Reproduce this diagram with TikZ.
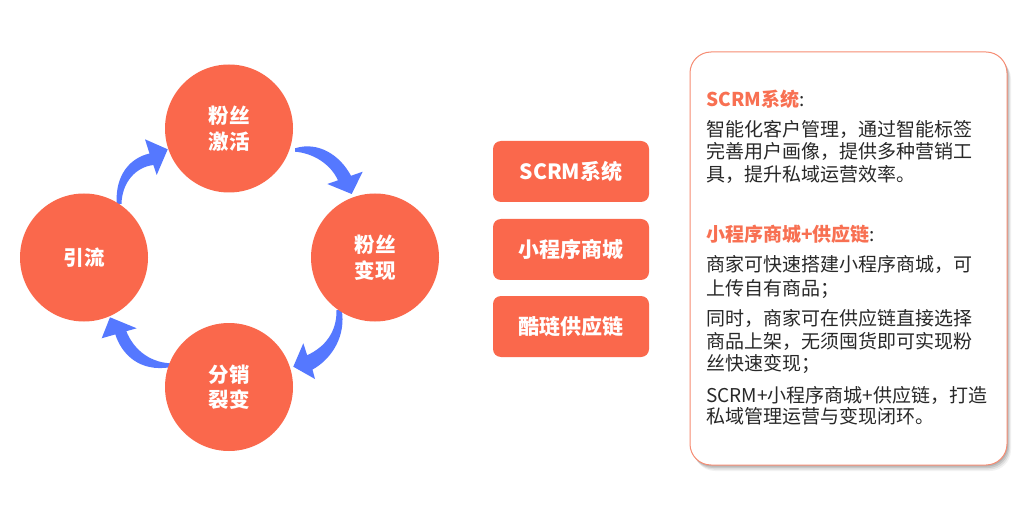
\documentclass[tikz,border=0pt]{standalone}
\usepackage{fontspec}
\setmainfont{Noto Sans CJK SC}
\definecolor{orng}{RGB}{250,104,76}
\definecolor{blu}{RGB}{85,120,255}
\definecolor{hc}{RGB}{248,112,82}
\definecolor{bodyc}{RGB}{40,40,40}
\definecolor{bordc}{RGB}{246,140,115}
\begin{document}
\begin{tikzpicture}[x=1pt,y=-1pt,
  circ/.style={circle,fill=orng,minimum size=128pt,inner sep=0pt,text=white,align=center,
    font=\fontsize{20.5}{25.5}\selectfont\bfseries},
  boxn/.style={rounded corners=8pt,fill=orng,minimum width=156pt,minimum height=61pt,inner sep=0pt,
    text=white,font=\fontsize{21}{24}\selectfont\bfseries},
  txt/.style={anchor=base west,inner sep=0pt,text=bodyc,font=\fontsize{19}{23}\selectfont},
  arr/.style={fill=blu,draw=none}]
\fill[white] (0,0) rectangle (1033,521);
\useasboundingbox (0,0) rectangle (1033,521);
% arrows
\fill[arr] (116.7,204) .. controls (115,175) and (130,158) .. (149.5,153.5) -- (145,139.3) -- (167.7,149.3) -- (156.7,175) -- (153.4,165) .. controls (136,167) and (122,182) .. (121.5,204) -- cycle;
\fill[arr] (295,148.3) .. controls (318,141) and (340,155) .. (351,175.8) -- (362.7,171.7) -- (351.7,194) -- (327.3,184) -- (338,180.3) .. controls (330,163) and (312,153) .. (295,151.7) -- cycle;
\fill[arr] (341.7,310) .. controls (346,335) and (333,358) .. (312.5,369.6) -- (315,379) -- (293.3,366.7) -- (303.3,343.3) -- (307.2,355.2) .. controls (325,347) and (337,332) .. (336.5,310) -- cycle;
\fill[arr] (170,367.3) .. controls (140,372) and (122,355) .. (115.3,334.4) -- (101.7,338.3) -- (110,317.3) -- (136.7,328.3) -- (126.3,331.2) .. controls (133,348) and (148,362) .. (170,363.3) -- cycle;
% circles
\node[circ] (top) at (229,128.5) {粉丝\\激活};
\node[circ] (left) at (84,257.5) {引流};
\node[circ] (right) at (375,257.5) {粉丝\\变现};
\node[circ] (bot) at (229,387) {分销\\裂变};
% boxes
\node[boxn] (b1) at (571,171.5) {SCRM系统};
\node[boxn] (b2) at (571,249.5) {小程序商城};
\node[boxn] (b3) at (571,326.5) {酷琏供应链};
% panel shadow
\foreach \dx/\dy/\op in {1/1.5/0.10,2/3/0.10,3/4.5/0.08,4/6/0.05}
  \fill[black,opacity=\op,rounded corners=21pt] (690+\dx,52+\dy) rectangle (1007+\dx,465+\dy);
\node[draw=bordc,line width=1pt,fill=white,rounded corners=21pt,minimum width=317pt,minimum height=413pt,inner sep=0pt] (panel) at (848.5,258.5) {};
% panel text
\node[txt] (h1) at (706,107) {{\color{hc}\bfseries SCRM系统}:};
\node[txt] (l1) at (706,136.3) {智能化客户管理，通过智能标签};
\node[txt] (l2) at (706,159) {完善用户画像，提供多种营销工};
\node[txt] (l3) at (706,182) {具，提升私域运营效率。};
\node[txt] (h2) at (706,242) {{\color{hc}\bfseries 小程序商城+供应链}:};
\node[txt] (l4) at (706,272) {商家可快速搭建小程序商城，可};
\node[txt] (l5) at (706,295.3) {上传自有商品；};
\node[txt] (l6) at (706,325.3) {同时，商家可在供应链直接选择};
\node[txt] (l7) at (706,348.7) {商品上架，无须囤货即可实现粉};
\node[txt] (l8) at (706,370.3) {丝快速变现；};
\node[txt] (l9) at (706,402) {SCRM+小程序商城+供应链，打造};
\node[txt] (l10) at (706,423.7) {私域管理运营与变现闭环。};
\end{tikzpicture}
\end{document}
